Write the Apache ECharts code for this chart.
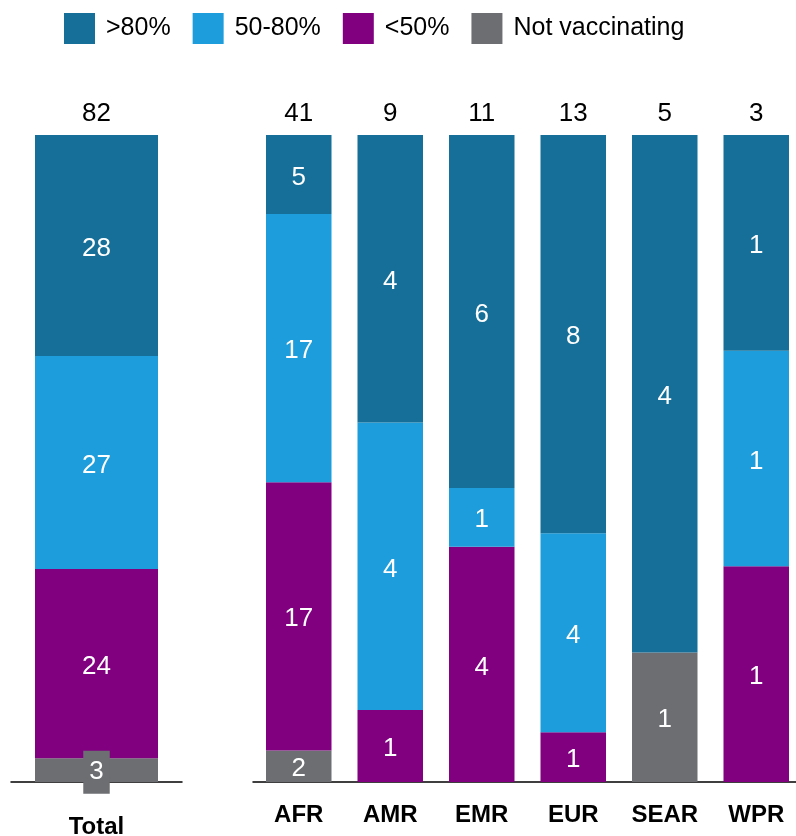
<!DOCTYPE html>
<html>
<head>
<meta charset="utf-8">
<script src="https://cdn.jsdelivr.net/npm/echarts@6/dist/echarts.min.js"></script>
<style>
html,body{margin:0;padding:0;background:#fff;}
#chart{width:796px;height:836px;}
</style>
</head>
<body>
<div id="chart"></div>
<script>
// Categories
const totalCategory = ['Total'];
const regions = ['AFR', 'AMR', 'EMR', 'EUR', 'SEAR', 'WPR'];
// Series names (legend order)
const seriesNames = ['>80%', '50-80%', '<50%', 'Not vaccinating'];
// Total counts per group
const totalOver80 = [28];
const total50to80 = [27];
const totalUnder50 = [24];
const totalNotVacc = [3];
// Regional counts
const regionOver80 = [5, 4, 6, 8, 4, 1];
const region50to80 = [17, 4, 1, 4, 0, 1];
const regionUnder50 = [17, 1, 4, 1, 0, 1];
const regionNotVacc = [2, 0, 0, 0, 1, 0];

const colors = {
  '>80%': '#156f98',
  '50-80%': '#1d9ddb',
  '<50%': '#800080',
  'Not vaccinating': '#6d6e72'
};
const FONT = 'Liberation Sans';

function sums(groups) {
  return groups[0].map((_, i) => groups.reduce((s, g) => s + g[i], 0));
}
const totalSums = sums([totalOver80, total50to80, totalUnder50, totalNotVacc]);
const regionSums = sums([regionOver80, region50to80, regionUnder50, regionNotVacc]);

function toData(counts, totals) {
  return counts.map((c, i) => ({ value: c / totals[i], count: c }));
}

const labelBase = {
  show: true,
  position: 'inside',
  color: '#ffffff',
  fontFamily: FONT,
  fontSize: 26,
  offset: [0, 3],
  formatter: p => (p.data.count ? String(p.data.count) : '')
};

// stacking order bottom->top
const stackOrder = [
  ['Not vaccinating', totalNotVacc, regionNotVacc],
  ['<50%', totalUnder50, regionUnder50],
  ['50-80%', total50to80, region50to80],
  ['>80%', totalOver80, regionOver80]
];

const series = [];
stackOrder.forEach(([name, tArr, rArr]) => {
  const totalLabel = Object.assign({}, labelBase);
  if (name === 'Not vaccinating') {
    Object.assign(totalLabel, { backgroundColor: colors[name], padding: [9, 6, 8, 6], offset: [0, 2] });
  }
  series.push({
    name: name, type: 'bar', stack: 'total', xAxisIndex: 0, yAxisIndex: 0,
    barWidth: 123, itemStyle: { color: colors[name] },
    label: totalLabel, data: toData(tArr, totalSums), z: 2
  });
  series.push({
    name: name, type: 'bar', stack: 'regions', xAxisIndex: 1, yAxisIndex: 1,
    barWidth: 65.5, itemStyle: { color: colors[name] },
    label: labelBase, data: toData(rArr, regionSums), z: 2
  });
});

const chart = echarts.init(document.getElementById('chart'));
chart.setOption({
  animation: false,
  color: seriesNames.map(n => colors[n]),
  legend: {
    data: seriesNames,
    left: 64, top: 13, padding: 0,
    itemWidth: 31, itemHeight: 31, itemGap: 22,
    icon: 'rect',
    textStyle: { fontFamily: FONT, fontSize: 25, color: '#000', padding: [5, 0, 0, 6] }
  },
  grid: [
    { left: 11, width: 171, top: 135, bottom: 54, outerBoundsMode: 'none', containLabel: false },
    { left: 253, width: 549, top: 135, bottom: 54, outerBoundsMode: 'none', containLabel: false }
  ],
  xAxis: [
    {
      type: 'category', gridIndex: 0, data: totalCategory,
      axisLine: { lineStyle: { color: '#000', width: 1.5 } }, axisTick: { show: false },
      axisLabel: { fontFamily: FONT, fontWeight: 'bold', fontSize: 24, color: '#000', margin: 33 }
    },
    {
      type: 'category', gridIndex: 1, data: regions,
      axisLine: { lineStyle: { color: '#000', width: 1.5 } }, axisTick: { show: false },
      axisLabel: { fontFamily: FONT, fontWeight: 'bold', fontSize: 24, color: '#000', margin: 21 }
    },
    {
      type: 'category', gridIndex: 0, position: 'top', data: totalCategory,
      axisLine: { show: false }, axisTick: { show: false },
      axisLabel: { fontFamily: FONT, fontSize: 26, color: '#000', margin: 8,
        formatter: (v, i) => String(totalSums[i]) }
    },
    {
      type: 'category', gridIndex: 1, position: 'top', data: regions,
      axisLine: { show: false }, axisTick: { show: false },
      axisLabel: { fontFamily: FONT, fontSize: 26, color: '#000', margin: 8,
        formatter: (v, i) => String(regionSums[i]) }
    }
  ],
  yAxis: [
    { type: 'value', gridIndex: 0, min: 0, max: 1, show: false },
    { type: 'value', gridIndex: 1, min: 0, max: 1, show: false }
  ],
  series: series
});
</script>
</body>
</html>
